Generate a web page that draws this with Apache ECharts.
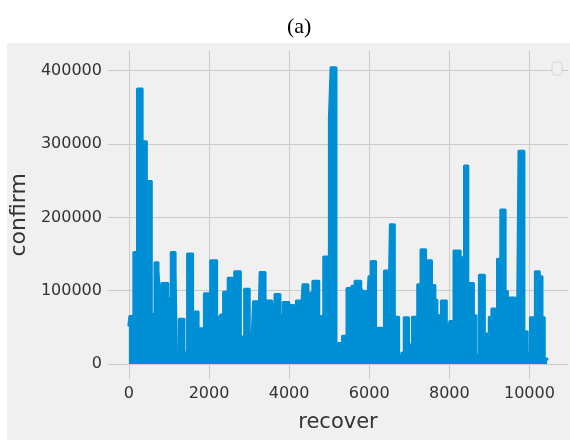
<!DOCTYPE html>
<html>
<head>
<meta charset="utf-8">
<script src="https://cdn.jsdelivr.net/npm/echarts@6/dist/echarts.min.js"></script>
<style>
  html, body { margin: 0; padding: 0; background: #ffffff; }
  #wrap { position: relative; width: 570px; height: 440px; }
  #bg { position: absolute; left: 7px; top: 43px; right: 0; bottom: 0; background: #f0f0f0; }
  #chart { position: absolute; left: 0; top: 0; width: 570px; height: 440px; }
</style>
</head>
<body>
<div id="wrap"><div id="bg"></div><div id="chart"></div></div>
<script>
// recover (x) step edges and confirm (y) level held over each step
const recoverEdges = [
  0, 25, 123, 215, 331, 437, 560, 652, 726, 765, 825, 973, 1058, 1154, 1185, 1259, 1375, 1465, 1590, 1728,
  1885, 2042, 2190, 2289, 2363, 2479, 2592, 2642, 2783, 2889, 3005, 3071, 3111, 3234, 3276, 3400, 3442, 3565, 3647, 3770,
  3852, 3992, 4116, 4182, 4306, 4345, 4469, 4592, 4740, 4864, 5005, 5047, 5170, 5333, 5445, 5565, 5647, 5788, 5827, 5950,
  5992, 6049, 6158, 6214, 6321, 6380, 6486, 6528, 6627, 6733, 6815, 6874, 6980, 7079, 7210, 7293, 7407, 7457, 7555, 7639,
  7689, 7720, 7802, 7925, 8009, 8116, 8271, 8310, 8379, 8461, 8503, 8602, 8666, 8750, 8874, 8913, 8997, 9061, 9145, 9202,
  9284, 9392, 9449, 9506, 9639, 9696, 9738, 9861, 9943, 10024, 10148, 10246, 10313, 10370, 10440
];
const confirmLevels = [
  53000, 65000, 152000, 375000, 303000, 249000, 68000, 138000, 128000, 94000, 110000, 89000, 152000, 128000, 12000, 61000, 15000, 150000, 71000, 48000,
  96000, 141000, 64000, 67000, 98000, 117000, 40000, 126000, 37000, 102000, 21000, 28000, 85000, 30000, 125000, 41000, 86000, 81000, 95000, 66000,
  84000, 80000, 67000, 86000, 67000, 108000, 97000, 113000, 65000, 146000, 334000, 404000, 28000, 38000, 103000, 106000, 113000, 103000, 99000, 67000,
  119000, 140000, 37000, 49000, 45000, 127000, 57000, 190000, 64000, 11000, 15000, 63000, 26000, 64000, 108000, 156000, 107000, 141000, 107000, 87000,
  21000, 66000, 86000, 53000, 58000, 154000, 87000, 145000, 270000, 98000, 110000, 66000, 12000, 121000, 16000, 41000, 64000, 75000, 66000, 143000,
  210000, 99000, 21000, 90000, 80000, 21000, 290000, 44000, 15000, 63000, 126000, 119000, 63000, 7000
];
const xTicks = [0, 2000, 4000, 6000, 8000, 10000];
const yTicks = [0, 100000, 200000, 300000, 400000];

const data = [];
for (let i = 0; i < confirmLevels.length; i++) {
  data.push([recoverEdges[i], confirmLevels[i]]);
  data.push([recoverEdges[i + 1], confirmLevels[i]]);
}

const chart = echarts.init(document.getElementById('chart'), null, { renderer: 'canvas' });
const font = 'DejaVu Sans';
chart.setOption({
  animation: false,
  backgroundColor: 'transparent',
  title: {
    text: '(a)', left: 282, top: 11,
    textStyle: { fontFamily: 'Liberation Serif', fontSize: 22, fontWeight: 'normal', color: '#000' }
  },
  grid: { left: 106, top: 50.6, width: 462, height: 328.4 },
  xAxis: {
    type: 'value', min: -522, max: 10962, splitNumber: 5,
    axisLine: { show: false }, axisTick: { show: false },
    splitLine: { show: true, showMinLine: false, showMaxLine: false, lineStyle: { color: '#cbcbcb', width: 1 } },
    axisLabel: {
      showMinLabel: false, showMaxLabel: false, color: '#333', fontFamily: font, fontSize: 16, margin: 7,
      formatter: v => xTicks.includes(v) ? String(v) : ''
    },
    name: 'recover', nameLocation: 'middle', nameGap: 33,
    nameTextStyle: { fontFamily: font, fontSize: 21, color: '#333' }
  },
  yAxis: {
    type: 'value', min: -20350, max: 427350, splitNumber: 5,
    axisLine: { show: false }, axisTick: { show: false },
    splitLine: { show: true, showMinLine: false, showMaxLine: false, lineStyle: { color: '#cbcbcb', width: 1 } },
    axisLabel: {
      showMinLabel: false, showMaxLabel: false, color: '#333', fontFamily: font, fontSize: 16, margin: 6,
      formatter: v => yTicks.includes(v) ? String(v) : ''
    },
    name: 'confirm', nameLocation: 'middle', nameGap: 73, nameRotate: 90,
    nameTextStyle: { fontFamily: font, fontSize: 22, color: '#333' }
  },
  graphic: [{
    type: 'rect', z: 100,
    shape: { x: 552, y: 62, width: 10, height: 13, r: 2 },
    style: { fill: '#f0f0f0', stroke: '#d6d6d6', lineWidth: 1 }
  }],
  series: [{
    type: 'line', data: data, showSymbol: false, symbol: 'none',
    lineStyle: { color: '#008fd5', width: 3, cap: 'round', join: 'round' },
    areaStyle: { color: '#008fd5', opacity: 1, origin: 0 }
  }]
});
</script>
</body>
</html>
